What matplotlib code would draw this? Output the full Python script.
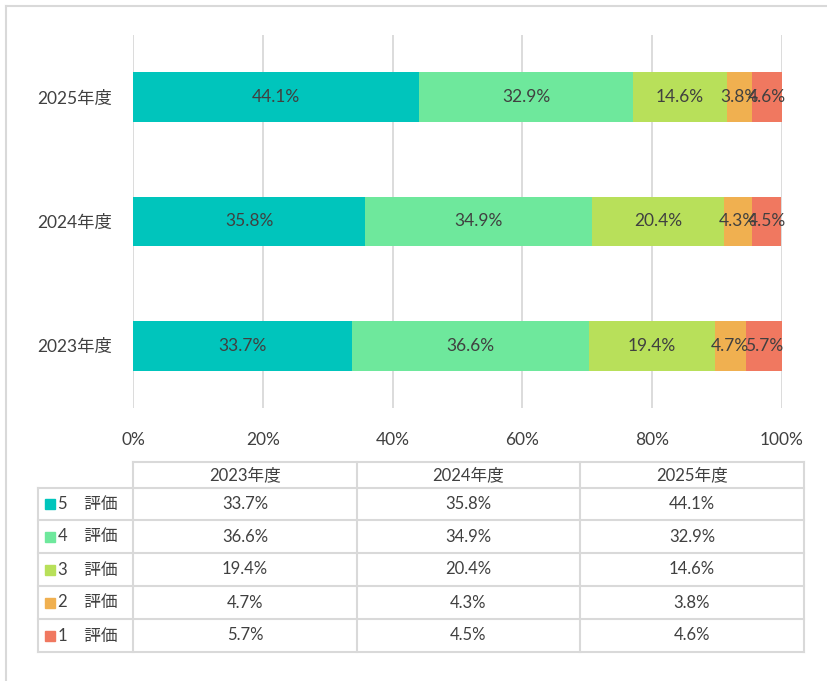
import numpy as np
import matplotlib.pyplot as plt
from matplotlib.patches import Rectangle

years = ['2023年度', '2024年度', '2025年度']
ratings = ['5\u3000評価', '4\u3000評価', '3\u3000評価', '2\u3000評価', '1\u3000評価']
colors = ['#00C5BC', '#6EE89C', '#B8E05A', '#F0B050', '#F07860']
# rows: rating 5..1, columns: 2023, 2024, 2025
values = np.array([
    [33.7, 35.8, 44.1],
    [36.6, 34.9, 32.9],
    [19.4, 20.4, 14.6],
    [4.7, 4.3, 3.8],
    [5.7, 4.5, 4.6],
])
ticks = [0, 20, 40, 60, 80, 100]

plt.rcParams['font.family'] = ['Lato', 'Noto Sans CJK JP', 'DejaVu Sans']
txt = '#404040'
grid = '#D9D9D9'

W, H = 827, 681
fig = plt.figure(figsize=(W / 100, H / 100), dpi=100)

def fx(px):
    return px / W

def fy(py):
    return 1 - py / H

# outer frame (runs off right/bottom edge)
fig.add_artist(plt.Line2D([fx(6), fx(6)], [fy(6), 0], color=grid, lw=1.5))
fig.add_artist(plt.Line2D([fx(6), 1], [fy(6), fy(6)], color=grid, lw=1.5))

ax = fig.add_axes([fx(133), fy(408), fx(782) - fx(133), fy(35) - fy(408)])
y = np.arange(len(years))
left = np.zeros(len(years))
for i in range(len(ratings)):
    ax.barh(y, values[i], left=left, height=0.4, color=colors[i], zorder=2)
    for j in range(len(years)):
        ax.text(left[j] + values[i, j] / 2, y[j], f'{values[i, j]:.1f}%',
                ha='center', va='center', fontsize=12.5, color=txt, zorder=3)
    left += values[i]

ax.set_xlim(0, 100)
ax.set_ylim(-0.5, 2.5)
ax.set_xticks(ticks)
ax.set_xticklabels([f'{t}%' for t in ticks])
ax.set_yticks(y)
ax.set_yticklabels(years)
ax.xaxis.grid(True, color=grid, lw=1.3, zorder=0)
ax.tick_params(length=0, labelsize=12.5, colors=txt)
ax.tick_params(axis='x', pad=17)
ax.tick_params(axis='y', pad=15)
for s in ax.spines.values():
    s.set_visible(False)

# data table below
tab = fig.add_axes([0, 0, 1, 1], facecolor='none')
tab.set_xlim(0, W)
tab.set_ylim(H, 0)
tab.axis('off')
cols = [38, 133, 357, 580, 804]
rows = [462, 488, 520, 553, 586, 619, 652]
lc = dict(color=grid, lw=1.5)
# header
tab.plot([cols[1], cols[4]], [rows[0], rows[0]], **lc)
for x in cols[1:]:
    tab.plot([x, x], [rows[0], rows[-1]], **lc)
tab.plot([cols[0], cols[0]], [rows[1], rows[-1]], **lc)
for r in rows[1:]:
    tab.plot([cols[0], cols[4]], [r, r], **lc)
for j, yr in enumerate(years):
    tab.text((cols[j + 1] + cols[j + 2]) / 2, (rows[0] + rows[1]) / 2, yr,
             ha='center', va='center', fontsize=12, color=txt)
for i, name in enumerate(ratings):
    cy = (rows[i + 1] + rows[i + 2]) / 2
    tab.add_patch(Rectangle((45, cy - 5), 10, 10, color=colors[i]))
    tab.text(58, cy, name, ha='left', va='center', fontsize=12, color=txt)
    for j in range(len(years)):
        tab.text((cols[j + 1] + cols[j + 2]) / 2, cy, f'{values[i, j]:.1f}%',
                 ha='center', va='center', fontsize=12, color=txt)

fig.savefig('out.png', dpi=100)
